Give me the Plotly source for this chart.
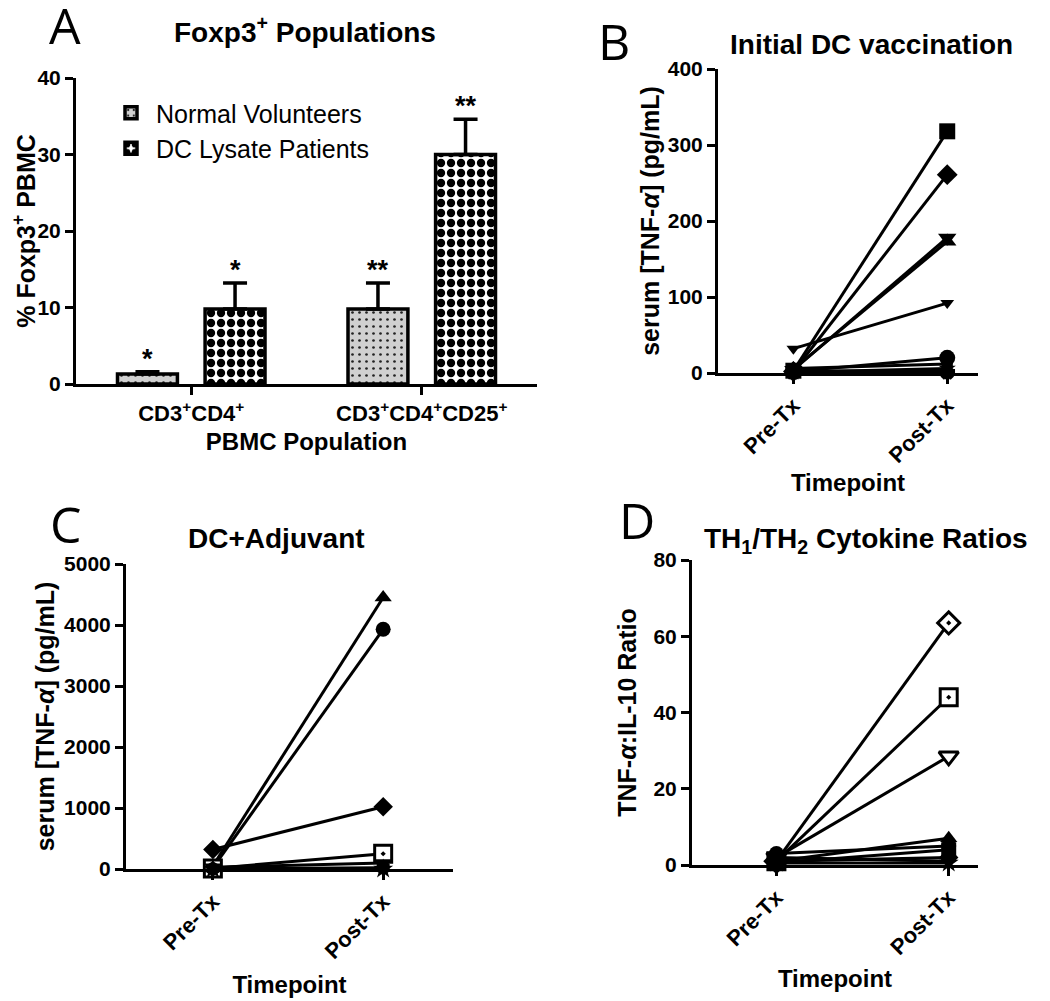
import plotly.graph_objects as go

W, H = 1050, 1001
OFF = 8  # page body margin of the browser
FONT = "Liberation Sans"

# ---------------- Panel A data ----------------
cats_A = ["CD3<sup>+</sup>CD4<sup>+</sup>", "CD3<sup>+</sup>CD4<sup>+</sup>CD25<sup>+</sup>"]
normal_mean = [1.3, 9.8]
normal_err = [0.3, 3.4]
dc_mean = [9.8, 30.0]
dc_err = [3.4, 4.6]
normal_stars = ["*", "**"]
dc_stars = ["*", "**"]

# ---------------- Panel B data ----------------
timepoints = ["Pre-Tx", "Post-Tx"]
b_pre = [3, 2, 5, 4, 32, 2, 6, 1, 3, 0]
b_post = [318, 261, 173, 178, 92, 20, 12, 6, 2, 0]
b_symbols = ["square", "diamond", "triangle-up", "triangle-down", "triangle-down",
             "circle", "hexagon", "star", "cross", "x"]

# ---------------- Panel C data ----------------
c_pre = [50, 20, 320, 10, 30, 5, 0]
c_post = [4450, 3930, 1020, 250, 100, 20, 0]
c_symbols = ["triangle-up", "circle", "diamond", "square-dot", "triangle-down", "hexagon", "star"]

# ---------------- Panel D data ----------------
d_pre = [1, 1, 2, 1, 3, 0.5, 1, 2, 0.5]
d_post = [63.5, 44, 28.5, 7, 5, 4, 2, 1, 0.5]
d_symbols = ["diamond-dot", "square-dot", "triangle-down", "triangle-up", "circle",
             "square", "diamond", "triangle-down", "star"]
d_open = [True, True, True, False, False, False, False, False, False]

fig = go.Figure()


def px_x(p):
    return (p - OFF) / W


def px_y(p):
    return 1 - (p - OFF) / H


BAR_LINE = dict(color="black", width=3.5)
fig.add_trace(go.Bar(
    x=cats_A, y=normal_mean, name="Normal Volunteers",
    marker=dict(color="#d0d0d0", line=BAR_LINE,
                pattern=dict(shape=".", fgcolor="#222222", bgcolor="#d0d0d0", size=7,
                             solidity=0.12, fgopacity=1)),
    error_y=dict(type="data", array=normal_err, arrayminus=[0] * len(normal_err), symmetric=False,
                 color="black", thickness=3.5, width=12),
    xaxis="x", yaxis="y"))
fig.add_trace(go.Bar(
    x=cats_A, y=dc_mean, name="DC Lysate Patients",
    marker=dict(color="white", line=BAR_LINE,
                pattern=dict(shape=".", fgcolor="black", bgcolor="white", size=10,
                             solidity=0.55, fgopacity=1)),
    error_y=dict(type="data", array=dc_err, arrayminus=[0] * len(dc_err), symmetric=False,
                 color="black", thickness=3.5, width=12),
    xaxis="x", yaxis="y"))

BARGAP = 0.24
BARGROUPGAP = 0.316
slot = (1 - BARGAP) / 2
annotations = []
for i in range(len(cats_A)):
    annotations.append(dict(x=i - slot / 2, y=normal_mean[i] + normal_err[i], xref="x", yref="y",
                            text="<b>" + normal_stars[i] + "</b>", showarrow=False, yanchor="bottom",
                            yshift=-4, font=dict(family=FONT, size=27, color="black")))
    annotations.append(dict(x=i + slot / 2, y=dc_mean[i] + dc_err[i], xref="x", yref="y",
                            text="<b>" + dc_stars[i] + "</b>", showarrow=False, yanchor="bottom",
                            yshift=-4, font=dict(family=FONT, size=27, color="black")))


def add_pairs(pre, post, symbols, xa, ya, opens=None, sizes=None):
    for k in range(len(pre)):
        is_open = opens[k] if opens else False
        sz = sizes[k] if sizes else (17 if is_open else 15)
        fig.add_trace(go.Scatter(
            x=timepoints, y=[pre[k], post[k]], mode="lines+markers",
            line=dict(color="black", width=3),
            marker=dict(symbol=symbols[k], size=sz,
                        color="white" if is_open else "black",
                        line=dict(color="black", width=3 if is_open else 0)),
            cliponaxis=False, showlegend=False, xaxis=xa, yaxis=ya))


b_sizes = [16, 16, 16, 16, 12, 16, 13, 13, 13, 12]
add_pairs(b_pre, b_post, b_symbols, "x2", "y2", sizes=b_sizes)
c_open = [False, False, False, True, False, False, False]
add_pairs(c_pre, c_post, c_symbols, "x3", "y3", opens=c_open)
add_pairs(d_pre, d_post, d_symbols, "x4", "y4", opens=d_open)

tickfont = dict(family=FONT, size=21, color="black", weight="bold")
cattickfont = dict(family=FONT, size=22, color="black", weight="bold")
ytitlefont = dict(family=FONT, size=25, color="black", weight="bold")
xtitlefont = dict(family=FONT, size=24, color="black", weight="bold")
axis_common = dict(showline=True, linecolor="black", linewidth=3, ticks="outside",
                   ticklen=8, tickwidth=3, tickcolor="black", showgrid=False, zeroline=False,
                   automargin=False)

fig.update_layout(
    xaxis=dict(domain=[px_x(76), px_x(537)], anchor="y", range=[-0.5, 1.5], type="category",
               tickfont=cattickfont,
               title=dict(text="PBMC Population", font=xtitlefont, standoff=8), **axis_common),
    yaxis=dict(domain=[px_y(384), px_y(78)], anchor="x", range=[0, 40], tickvals=[0, 10, 20, 30, 40],
               tickfont=tickfont,
               title=dict(text="% Foxp3<sup>+</sup> PBMC", font=ytitlefont, standoff=8), **axis_common),
    xaxis2=dict(domain=[px_x(718), px_x(978)], anchor="y2", range=[-0.49, 1.2], type="category",
                tickangle=-45, tickfont=cattickfont,
                title=dict(text="Timepoint", font=xtitlefont, standoff=8), **axis_common),
    yaxis2=dict(domain=[px_y(373), px_y(69)], anchor="x2", range=[0, 400], tickvals=[0, 100, 200, 300, 400],
                tickfont=tickfont,
                title=dict(text="serum [TNF-<i>α</i>] (pg/mL)", font=ytitlefont, standoff=2), **axis_common),
    xaxis3=dict(domain=[px_x(126), px_x(453)], anchor="y3", range=[-0.51, 1.41], type="category",
                tickangle=-45, tickfont=cattickfont,
                title=dict(text="Timepoint", font=xtitlefont, standoff=14), **axis_common),
    yaxis3=dict(domain=[px_y(869), px_y(564)], anchor="x3", range=[0, 5000],
                tickvals=[0, 1000, 2000, 3000, 4000, 5000], tickfont=tickfont,
                title=dict(text="serum [TNF-<i>α</i>] (pg/mL)", font=ytitlefont, standoff=3), **axis_common),
    xaxis4=dict(domain=[px_x(692), px_x(978)], anchor="y4", range=[-0.49, 1.17], type="category",
                tickangle=-45, tickfont=cattickfont,
                title=dict(text="Timepoint", font=xtitlefont, standoff=12), **axis_common),
    yaxis4=dict(domain=[px_y(865), px_y(560)], anchor="x4", range=[0, 80], tickvals=[0, 20, 40, 60, 80],
                tickfont=tickfont,
                title=dict(text="TNF-<i>α</i>:IL-10 Ratio", font=ytitlefont, standoff=10), **axis_common),
)


def title_ann(text, xp, yp, size=28):
    return dict(text="<b>" + text + "</b>", x=px_x(xp), y=px_y(yp), xref="paper", yref="paper",
                showarrow=False, xanchor="center", yanchor="middle",
                font=dict(family=FONT, size=size, color="black"))


def letter_ann(text, xp, yp):
    return dict(text=text, x=px_x(xp), y=px_y(yp), xref="paper", yref="paper",
                showarrow=False, xanchor="center", yanchor="middle",
                font=dict(family="Open Sans", size=50, color="black"))


annotations += [
    title_ann("Foxp3<sup>+</sup> Populations", 305, 30),
    title_ann("Initial DC vaccination", 871, 45),
    title_ann("DC+Adjuvant", 276, 538),
    title_ann("TH<sub>1</sub>/TH<sub>2</sub> Cytokine Ratios", 866, 540),
    letter_ann("A", 65, 25),
    letter_ann("B", 614, 41),
    letter_ann("C", 66, 524),
    letter_ann("D", 637, 520),
]

fig.update_layout(
    width=W, height=H, margin=dict(l=0, r=0, t=0, b=0),
    plot_bgcolor="white", paper_bgcolor="white",
    barmode="group", bargap=BARGAP, bargroupgap=BARGROUPGAP,
    annotations=annotations,
    legend=dict(x=px_x(106), y=px_y(90), xanchor="left", yanchor="top",
                font=dict(family=FONT, size=25, color="black"), bgcolor="rgba(0,0,0,0)",
                itemwidth=40, tracegroupgap=0),
    showlegend=True,
)

fig.write_html("out.html")
